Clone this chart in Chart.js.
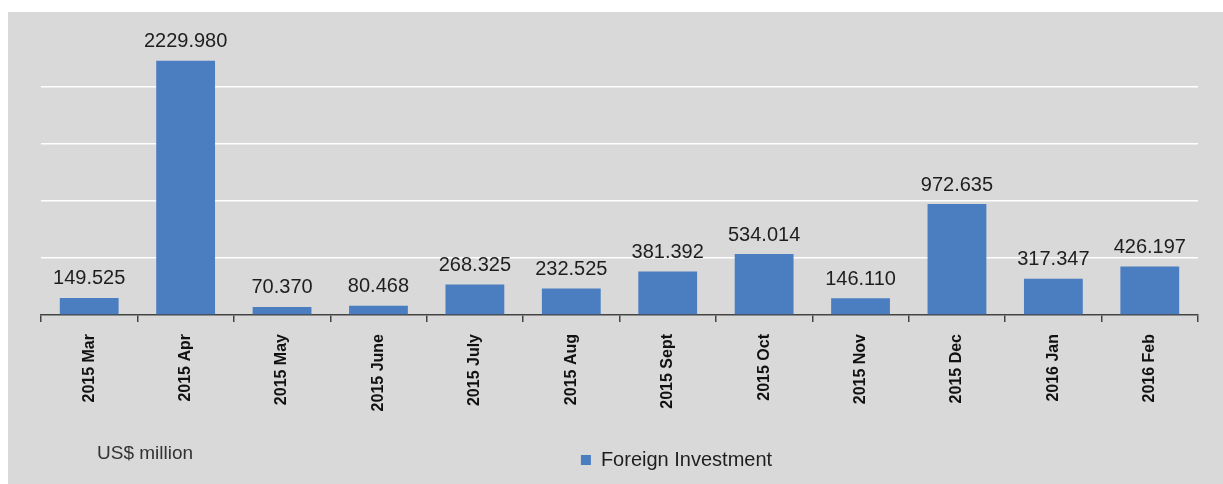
<!DOCTYPE html>
<html>
<head>
<meta charset="utf-8">
<script src="https://cdn.jsdelivr.net/npm/chart.js@4/dist/chart.umd.min.js"></script>
<style>
  html, body { margin: 0; padding: 0; background: #fff; }
  #box { position: absolute; left: 8px; top: 12px; width: 1215px; height: 472px; background: #d9d9d9; }
</style>
</head>
<body>
<div id="box"><canvas id="fdi"></canvas></div>
<script>
const months = ['2015 Mar', '2015 Apr', '2015 May', '2015 June', '2015 July', '2015 Aug',
                '2015 Sept', '2015 Oct', '2015 Nov', '2015 Dec', '2016 Jan', '2016 Feb'];
const investment = [149.525, 2229.980, 70.370, 80.468, 268.325, 232.525,
                    381.392, 534.014, 146.110, 972.635, 317.347, 426.197];
const unitNote = 'US$ million';

const valueLabels = {
    id: 'valueLabels',
    afterDatasetsDraw(chart) {
        const ctx = chart.ctx;
        const meta = chart.getDatasetMeta(0);
        ctx.save();
        ctx.font = '20px "Liberation Sans", Arial, sans-serif';
        ctx.fillStyle = '#1e1e1e';
        ctx.textAlign = 'center';
        ctx.textBaseline = 'bottom';
        meta.data.forEach((bar, i) => {
            ctx.fillText(investment[i].toFixed(3), bar.x, bar.y - 9);
        });
        ctx.font = '19px "Liberation Sans", Arial, sans-serif';
        ctx.fillStyle = '#333';
        ctx.textAlign = 'left';
        ctx.textBaseline = 'middle';
        ctx.fillText(unitNote, 89, 442);
        ctx.restore();
    }
};

// legend in the original sits right of centre
const legendShift = {
    id: 'legendShift',
    afterLayout(chart) {
        chart.legend.left += 57;
        chart.legend.right += 57;
    }
};

new Chart('fdi', {
    type: 'bar',
    data: {
        labels: months,
        datasets: [{
            label: 'Foreign Investment',
            data: investment,
            backgroundColor: '#4a7ec0',
            barPercentage: 0.61,
            categoryPercentage: 1.0,
        }]
    },
    options: {
        responsive: true,
        maintainAspectRatio: false,
        animation: false,
        layout: {
            padding: { left: 33, right: 25, top: 18, bottom: 4 }
        },
        plugins: {
            tooltip: { enabled: false },
            legend: {
                position: 'bottom',
                labels: {
                    boxWidth: 10,
                    boxHeight: 10,
                    padding: 10,
                    color: '#1e1e1e',
                    font: { family: '"Liberation Sans", Arial, sans-serif', size: 20 }
                }
            }
        },
        scales: {
            x: {
                grid: {
                    offset: true,
                    drawOnChartArea: false,
                    tickLength: 7,
                    color: '#444',
                    lineWidth: 1.5
                },
                border: { color: '#444', width: 1.5 },
                ticks: {
                    minRotation: 90,
                    maxRotation: 90,
                    padding: 12,
                    color: '#111',
                    font: { family: '"Liberation Sans", Arial, sans-serif', size: 16, weight: 'bold' }
                },
                afterFit(scale) {
                    scale.height = 125;
                }
            },
            y: {
                min: 0,
                max: 2500,
                ticks: { display: false, stepSize: 500 },
                grid: {
                    drawTicks: false,
                    lineWidth: 1.5,
                    color: c => (c.tick.value === 0 || c.tick.value === 2500) ? 'rgba(0,0,0,0)' : '#ffffff'
                },
                border: { display: false }
            }
        }
    },
    plugins: [valueLabels, legendShift]
});
</script>
</body>
</html>
